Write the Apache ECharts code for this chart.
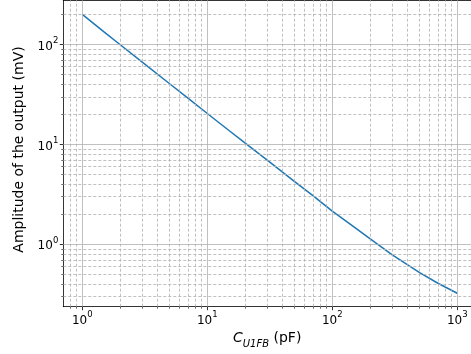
<!DOCTYPE html>
<html>
<head>
<meta charset="utf-8">
<script src="https://cdn.jsdelivr.net/npm/echarts@6/dist/echarts.min.js"></script>
<style>
  html, body { margin: 0; padding: 0; background: #ffffff; }
  #chart { width: 471px; height: 354px; }
</style>
</head>
<body>
<div id="chart"></div>
<script>
// Feedback capacitance sweep (pF) and resulting output amplitude (mV)
const capacitance = [1, 1.5, 2, 3, 5, 7, 10, 15, 20, 30, 50, 70, 100, 150, 200, 300, 500, 700, 1000];
const amplitude = [200, 133, 100, 67, 40.5, 29.1, 20.4, 13.7, 10.35, 7.0, 4.25, 3.07, 2.15, 1.49, 1.14, 0.79, 0.522, 0.408, 0.324];

// Decade ticks and the 2..9 subdivisions used for the log grid
const xMajorTicks = [1, 10, 100, 1000];
const yMajorTicks = [1, 10, 100];
const xMinorTicks = [0.8, 0.9, 2, 3, 4, 5, 6, 7, 8, 9, 20, 30, 40, 50, 60, 70, 80, 90,
                     200, 300, 400, 500, 600, 700, 800, 900];
const yMinorTicks = [0.3, 0.4, 0.5, 0.6, 0.7, 0.8, 0.9, 2, 3, 4, 5, 6, 7, 8, 9,
                     20, 30, 40, 50, 60, 70, 80, 90, 200];

// Visible data window of both log axes
const xRange = [0.7047, 1288];
const yRange = [0.2377, 277];

const FONT = 'DejaVu Sans';
const GRID_COLOR = '#b0b0b0';

function powerLabel(v) {
  const e = Math.round(Math.log10(v));
  return '{b|10}{s|' + e + '}';
}

const powerRich = {
  b: { fontFamily: FONT, fontSize: 12, color: '#000', verticalAlign: 'bottom', lineHeight: 16 },
  s: { fontFamily: FONT, fontSize: 8.5, color: '#000', verticalAlign: 'top', lineHeight: 10 }
};

function gridLines(values, key, major) {
  return values.map(v => ({
    [key]: v,
    lineStyle: major
      ? { color: GRID_COLOR, width: 0.8, type: 'solid' }
      : { color: GRID_COLOR, width: 0.8, type: [3, 2] }
  }));
}

const baseLog = (range) => ({
  type: 'log',
  logBase: 10,
  min: range[0],
  max: range[1],
  splitLine: { show: false },
  minorSplitLine: { show: false },
  minorTick: { show: false }
});

const option = {
  animation: false,
  backgroundColor: '#ffffff',
  grid: {
    left: 63.3, right: 0, top: 0.3, bottom: 47.3,
    containLabel: false, outerBoundsMode: 'none'
  },
  xAxis: [
    Object.assign(baseLog(xRange), {
      position: 'bottom',
      name: '{i|C}{s|U1FB}{n| (pF)}',
      nameLocation: 'middle',
      nameGap: 22,
      nameTextStyle: {
        rich: {
          i: { fontFamily: FONT, fontSize: 14, fontStyle: 'italic', color: '#000', verticalAlign: 'top', lineHeight: 18 },
          s: { fontFamily: FONT, fontSize: 10, fontStyle: 'italic', color: '#000', verticalAlign: 'bottom', lineHeight: 18 },
          n: { fontFamily: FONT, fontSize: 14, color: '#000', verticalAlign: 'top', lineHeight: 18 }
        }
      },
      axisLine: { show: true, onZero: false, lineStyle: { color: '#000', width: 0.8 } },
      axisTick: { show: true, inside: false, length: 3.5, customValues: xMajorTicks,
                  lineStyle: { color: '#000', width: 0.8 } },
      axisLabel: { show: true, margin: 4, customValues: xMajorTicks, formatter: powerLabel, rich: powerRich }
    }),
    Object.assign(baseLog(xRange), {
      position: 'bottom',
      axisLine: { show: false, onZero: false },
      axisTick: { show: true, inside: false, length: 2, customValues: xMinorTicks,
                  lineStyle: { color: '#000', width: 0.6 } },
      axisLabel: { show: false }
    }),
    Object.assign(baseLog(xRange), {
      position: 'top',
      axisLine: { show: true, onZero: false, lineStyle: { color: '#000', width: 0.8 } },
      axisTick: { show: false },
      axisLabel: { show: false }
    })
  ],
  yAxis: [
    Object.assign(baseLog(yRange), {
      position: 'left',
      name: 'Amplitude of the output (mV)',
      nameLocation: 'middle',
      nameGap: 28,
      nameTextStyle: { fontFamily: FONT, fontSize: 14, color: '#000', padding: [0, 0, 0, 8] },
      axisLine: { show: true, onZero: false, lineStyle: { color: '#000', width: 0.8 } },
      axisTick: { show: true, inside: false, length: 3.5, customValues: yMajorTicks,
                  lineStyle: { color: '#000', width: 0.8 } },
      axisLabel: { show: true, margin: 5, customValues: yMajorTicks, formatter: powerLabel, rich: powerRich }
    }),
    Object.assign(baseLog(yRange), {
      position: 'left',
      axisLine: { show: false, onZero: false },
      axisTick: { show: true, inside: false, length: 2, customValues: yMinorTicks,
                  lineStyle: { color: '#000', width: 0.6 } },
      axisLabel: { show: false }
    })
  ],
  series: [
    {
      // grid lines, kept beneath the curve
      type: 'line',
      xAxisIndex: 0,
      yAxisIndex: 0,
      data: [],
      z: 1,
      silent: true,
      markLine: {
        silent: true,
        symbol: ['none', 'none'],
        label: { show: false },
        emphasis: { disabled: true },
        animation: false,
        data: [].concat(
          gridLines(xMinorTicks, 'xAxis', false),
          gridLines(yMinorTicks, 'yAxis', false),
          gridLines(xMajorTicks, 'xAxis', true),
          gridLines(yMajorTicks, 'yAxis', true)
        )
      }
    },
    {
      type: 'line',
      xAxisIndex: 0,
      yAxisIndex: 0,
      z: 3,
      showSymbol: false,
      symbol: 'none',
      data: capacitance.map((c, i) => [c, amplitude[i]]),
      lineStyle: { color: '#1f77b4', width: 1.5 }
    }
  ]
};

const chart = echarts.init(document.getElementById('chart'), null, { renderer: 'canvas' });
chart.setOption(option);
</script>
</body>
</html>
